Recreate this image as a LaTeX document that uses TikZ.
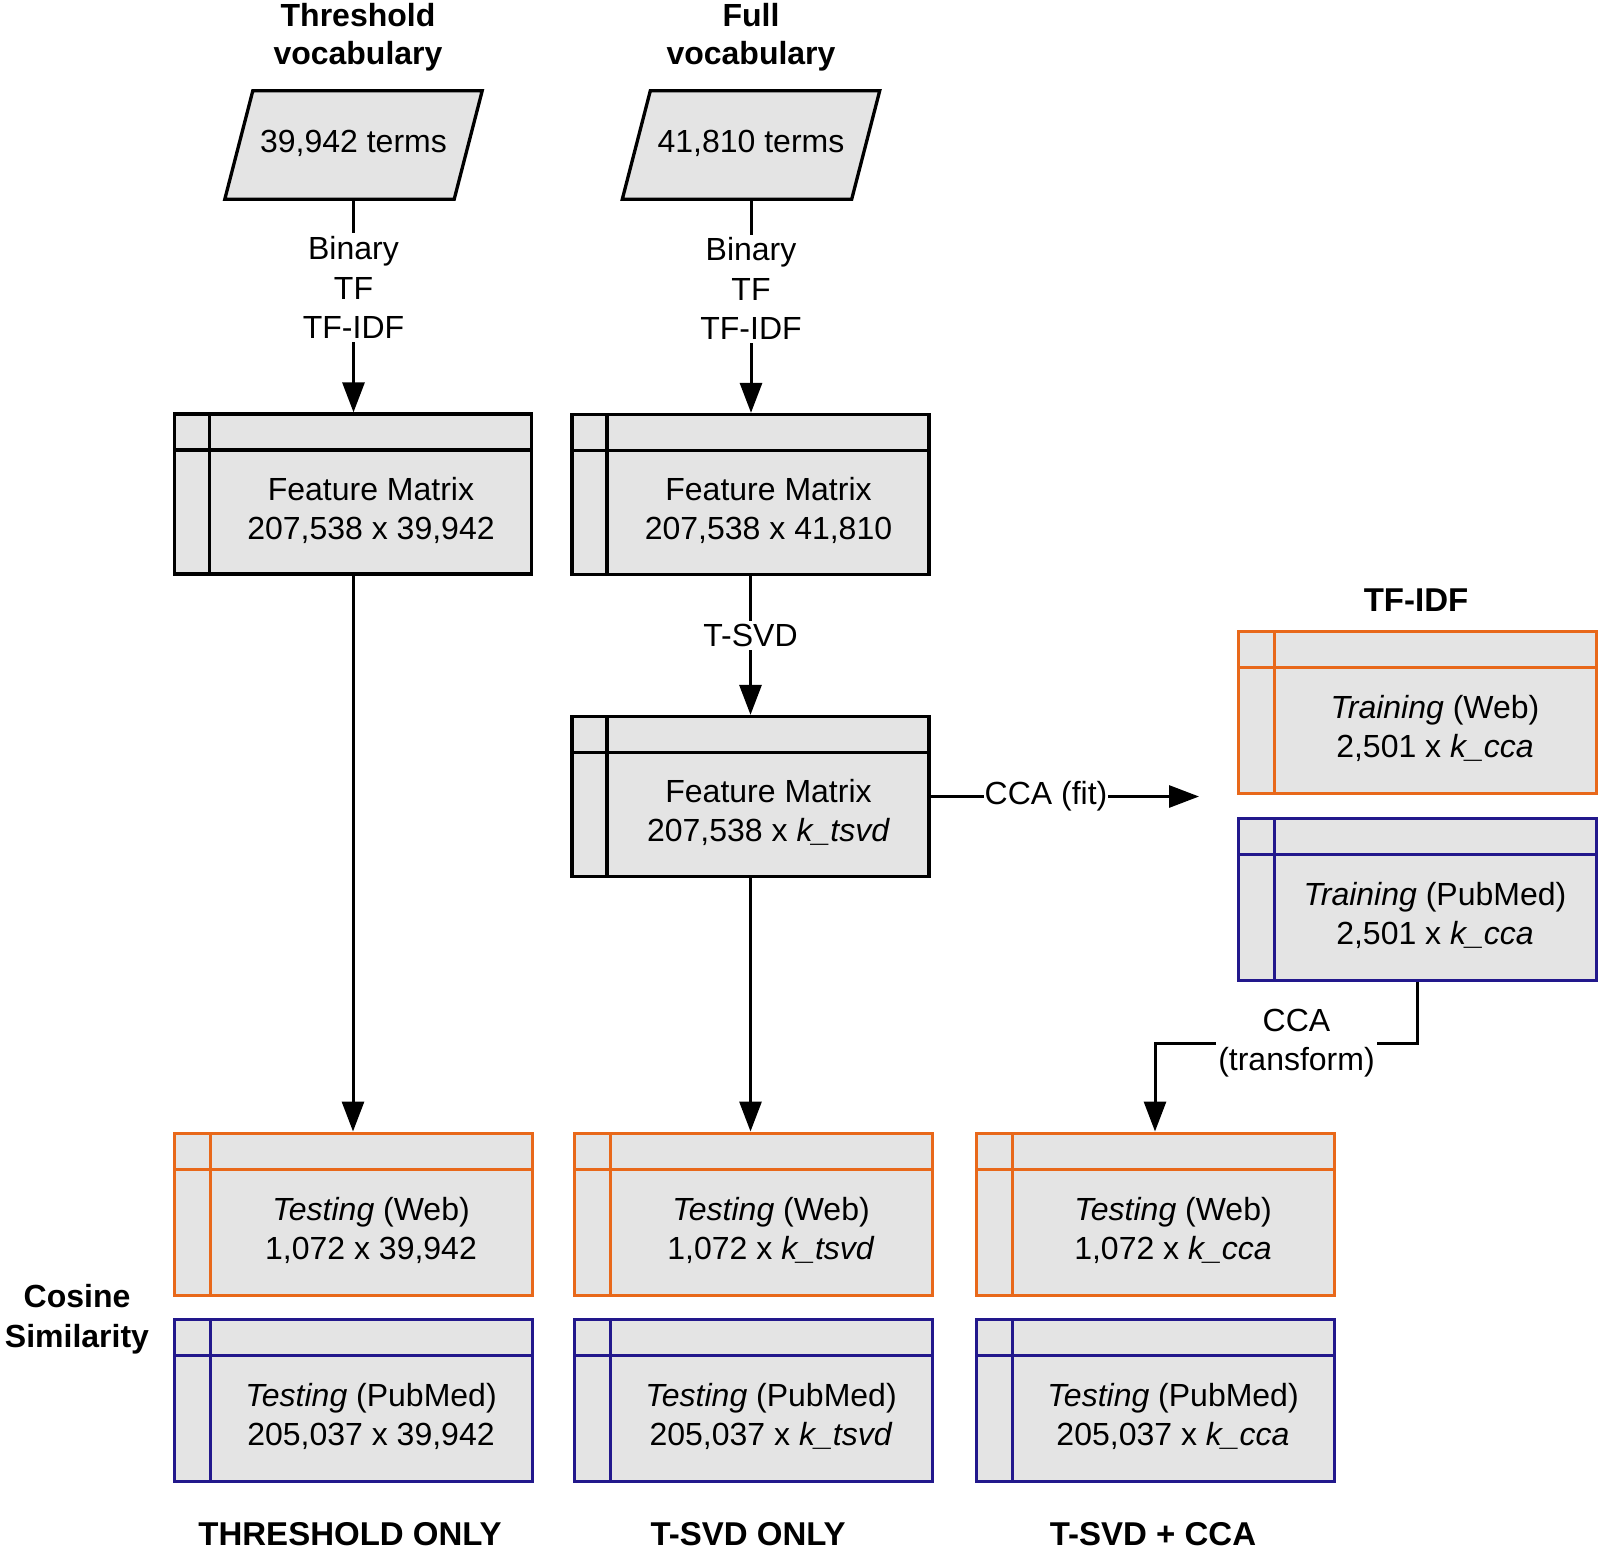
\documentclass[tikz,border=0pt]{standalone}
\usepackage{fontspec}
\setmainfont{Liberation Sans}
\usetikzlibrary{arrows.meta,backgrounds,calc}
\definecolor{boxgray}{RGB}{228,228,228}
\definecolor{orng}{RGB}{232,104,26}
\definecolor{navy}{RGB}{34,24,140}
\tikzset{
  body/.style={font=\fontsize{32}{39}\selectfont, align=center, inner sep=0pt},
  elabel/.style={font=\fontsize{32}{39.5}\selectfont, align=center, inner sep=3pt, fill=white},
  hd/.style={font=\bfseries\fontsize{32}{38}\selectfont, align=center, inner sep=0pt},
  bt/.style={font=\bfseries\fontsize{33}{38}\selectfont, align=center, inner sep=0pt},
  matbox/.style={draw=black, fill=boxgray, rectangle, line width=3.3pt,
    minimum width=357pt, minimum height=160pt, inner sep=0pt,
    path picture={
      \draw[black, line width=3.3pt] ([yshift=-36pt]path picture bounding box.north west) -- ([yshift=-36pt]path picture bounding box.north east);
      \draw[black, line width=3.3pt] ([xshift=35pt]path picture bounding box.north west) -- ([xshift=35pt]path picture bounding box.south west);}},
  colbox/.style={draw=#1, fill=boxgray, rectangle, line width=3pt,
    minimum width=358pt, minimum height=162pt, inner sep=0pt,
    path picture={
      \draw[#1, line width=3pt] ([yshift=-36pt]path picture bounding box.north west) -- ([yshift=-36pt]path picture bounding box.north east);
      \draw[#1, line width=3pt] ([xshift=36pt]path picture bounding box.north west) -- ([xshift=36pt]path picture bounding box.south west);}},
  para/.style={draw=black, fill=boxgray, line width=3.3pt, line join=miter},
  conn/.style={draw=black, line width=3pt, -{Triangle[length=30pt,width=22pt]}},
}
\begin{document}
\begin{tikzpicture}[x=1pt,y=-1pt]
\useasboundingbox (0,0) rectangle (1600,1550);

% headers
\node[hd] (h1) at (358,37.5) {Threshold\\vocabulary};
\node[hd] (h2) at (751,37.5) {Full\\vocabulary};
\node[bt] (h3) at (1416,600) {TF-IDF};
\node[hd, font=\bfseries\fontsize{32}{40}\selectfont] (h4) at (77,1319) {Cosine\\Similarity};
\node[bt] (b1) at (350,1534) {THRESHOLD ONLY};
\node[bt] (b2) at (748,1534) {T-SVD ONLY};
\node[bt] (b3) at (1153,1534) {T-SVD + CCA};

% vocabularies (parallelograms)
\node[body, minimum width=229pt, minimum height=108pt] (v1) at (353.5,143) {39,942 terms};
\node[body, minimum width=229pt, minimum height=108pt] (v2) at (751,143) {41,810 terms};
\begin{scope}[on background layer]
\foreach \v in {v1,v2}{
  \draw[para] ([xshift=-14pt,yshift=-2pt]\v.south west) -- ([xshift=14pt,yshift=-2pt]\v.north west) -- ([xshift=14pt,yshift=-2pt]\v.north east) -- ([xshift=-14pt,yshift=-2pt]\v.south east) -- cycle;
}
\end{scope}
\coordinate (v1b) at (353.5,199);
\coordinate (v2b) at (751,199);

% feature matrices
\node[matbox] (fm1) at (353,494) {};
\node[body] (fm1t) at ($(fm1.center)+(18,16)$) {Feature Matrix\\207,538 x 39,942};
\node[matbox] (fm2) at (750.5,494.5) {};
\node[body] (fm2t) at ($(fm2.center)+(18,16)$) {Feature Matrix\\207,538 x 41,810};
\node[matbox] (fm3) at (750.5,796.5) {};
\node[body] (fm3t) at ($(fm3.center)+(18,16)$) {Feature Matrix\\207,538 x \textit{k\_tsvd}};

% training
\node[colbox=orng] (trw) at (1417,712.5) {};
\node[body] (trwt) at ($(trw.center)+(18,16)$) {\textit{Training} (Web)\\2,501 x \textit{k\_cca}};
\node[colbox=navy] (trp) at (1417,899) {};
\node[body] (trpt) at ($(trp.center)+(18,16)$) {\textit{Training} (PubMed)\\2,501 x \textit{k\_cca}};

% testing
\node[colbox=orng] (tw1) at (353,1214) {};
\node[body] (tw1t) at ($(tw1.center)+(18,16)$) {\textit{Testing} (Web)\\1,072 x 39,942};
\node[colbox=navy] (tp1) at (353,1400.5) {};
\node[body] (tp1t) at ($(tp1.center)+(18,16)$) {\textit{Testing} (PubMed)\\205,037 x 39,942};
\node[colbox=orng] (tw2) at (753,1214) {};
\node[body] (tw2t) at ($(tw2.center)+(18,16)$) {\textit{Testing} (Web)\\1,072 x \textit{k\_tsvd}};
\node[colbox=navy] (tp2) at (753,1400.5) {};
\node[body] (tp2t) at ($(tp2.center)+(18,16)$) {\textit{Testing} (PubMed)\\205,037 x \textit{k\_tsvd}};
\node[colbox=orng] (tw3) at (1155,1214) {};
\node[body] (tw3t) at ($(tw3.center)+(18,16)$) {\textit{Testing} (Web)\\1,072 x \textit{k\_cca}};
\node[colbox=navy] (tp3) at (1155,1400.5) {};
\node[body] (tp3t) at ($(tp3.center)+(18,16)$) {\textit{Testing} (PubMed)\\205,037 x \textit{k\_cca}};

% connectors
\draw[conn] (v1b) -- node[elabel, pos=0.415] {Binary\\TF\\TF-IDF} (v1b |- fm1.north);
\draw[conn] (v2b) -- node[elabel, pos=0.42] {Binary\\TF\\TF-IDF} (v2b |- fm2.north);
\draw[conn] (fm1.south) -- (fm1.south |- tw1.north);
\draw[conn] (fm2.south) -- node[elabel, pos=0.43] {T-SVD} (fm2.south |- fm3.north);
\draw[conn] (fm3.south) -- (fm3.south |- tw2.north);
\coordinate (fitend) at (1199,796.5);
\draw[conn] (fm3.east) -- node[elabel, pos=0.43, inner sep=1pt] {CCA (fit)} (fitend);
\coordinate (tbend) at (1286,1043);
\draw[conn] (trp.south) -- (trp.south |- tbend) -- node[elabel, pos=0.46, inner sep=2pt] {CCA\\(transform)} (tw3.north |- tbend) -- (tw3.north);
\end{tikzpicture}
\end{document}
